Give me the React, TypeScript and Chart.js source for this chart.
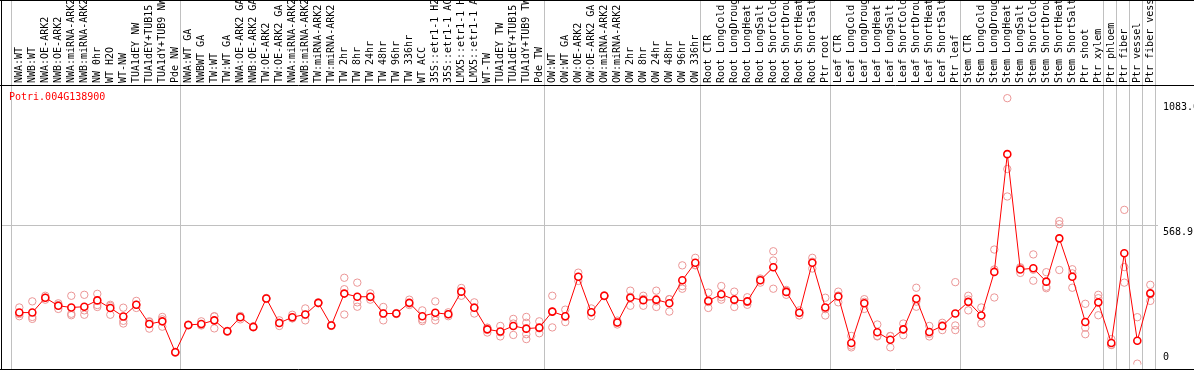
import React, { useEffect, useRef } from 'react';
import { Chart, registerables } from 'chart.js';

Chart.register(...registerables);

const geneId = 'Potri.004G138900';

const categories: string[] = [
  'NWA:WT', 'NWB:WT', 'NWA:OE-ARK2', 'NWB:OE-ARK2', 'NWA:miRNA-ARK2', 'NWB:miRNA-ARK2',
  'NW 0hr', 'WT H2O', 'WT-NW', 'TUA1dEY NW', 'TUA1dEY+TUB15 NW', 'TUA1dY+TUB9 NW', 'Pde NW',
  'NWA:WT GA', 'NWBWT GA', 'TW:WT', 'TW:WT GA', 'NWA:OE-ARK2 GA', 'NWB:OE-ARK2 GA', 'TW:OE-ARK2',
  'TW:OE-ARK2 GA', 'NWA:miRNA-ARK2', 'NWB:miRNA-ARK2', 'TW:miRNA-ARK2', 'TW:miRNA-ARK2',
  'TW 2hr', 'TW 8hr', 'TW 24hr', 'TW 48hr', 'TW 96hr', 'TW 336hr', 'WT ACC',
  '35S::etr1-1 H2O', '35S::etr1-1 ACC', 'LMX5::etr1-1 H2O', 'LMX5::etr1-1 ACC', 'WT-TW',
  'TUA1dEY TW', 'TUA1dEY+TUB15 TW', 'TUA1dY+TUB9 TW', 'Pde TW',
  'OW:WT', 'OW:WT GA', 'OW:OE-ARK2', 'OW:OE-ARK2 GA', 'OW:miRNA-ARK2', 'OW:miRNA-ARK2',
  'OW 2hr', 'OW 8hr', 'OW 24hr', 'OW 48hr', 'OW 96hr', 'OW 336hr',
  'Root CTR', 'Root LongCold', 'Root LongDrought', 'Root LongHeat', 'Root LongSalt',
  'Root ShortCold', 'Root ShortDrought', 'Root ShortHeat', 'Root ShortSalt', 'Ptr root',
  'Leaf CTR', 'Leaf LongCold', 'Leaf LongDrought', 'Leaf LongHeat', 'Leaf LongSalt',
  'Leaf ShortCold', 'Leaf ShortDrought', 'Leaf ShortHeat', 'Leaf ShortSalt', 'Ptr leaf',
  'Stem CTR', 'Stem LongCold', 'Stem LongDrought', 'Stem LongHeat', 'Stem LongSalt',
  'Stem ShortCold', 'Stem ShortDrought', 'Stem ShortHeat', 'Stem ShortSalt',
  'Ptr shoot', 'Ptr xylem', 'Ptr phloem', 'Ptr fiber', 'Ptr vessel', 'Ptr fiber vessel',
];

const meanValues: number[] = [
  213, 213, 274, 241, 234, 237, 263, 232, 197, 245, 166, 177, 50,
  162, 166, 181, 136, 194, 154, 271, 170, 194, 205, 253, 160, 291, 278, 278, 209, 209, 253,
  198, 212, 206, 299, 233, 144, 135, 158, 147, 151,
  217, 198, 360, 214, 282, 172, 274, 264, 266, 251, 346, 418,
  261, 288, 266, 259, 346, 399, 298, 212, 418, 234,
  279, 88, 251, 132, 101, 144, 270, 133, 158, 209,
  257, 201, 380, 864, 390, 395, 340, 518, 360, 174, 255,
  88, 457, 97, 292,
];

const replicateValues: number[][] = [
  [234, 198, 207], [259, 187, 195], [282, 266, 274], [251, 228, 244], [282, 208, 202],
  [286, 204, 222], [290, 244, 236], [245, 204, 240], [233, 179, 168], [261, 232, 245],
  [174, 147, 177], [195, 185, 155], [50, 48, 52],
  [162, 160, 164], [177, 160, 162], [198, 148, 197], [136, 134, 138], [198, 185, 199],
  [154, 152, 156], [271, 269, 273], [181, 158, 171], [204, 189, 190], [230, 181, 204],
  [253, 251, 255], [160, 158, 162], [356, 309, 205], [336, 255, 237], [292, 266, 276],
  [236, 181, 210], [209, 207, 211], [266, 244, 250], [222, 185, 178], [259, 181, 196],
  [206, 198, 214], [314, 282, 301], [255, 209, 235], [131, 150, 151], [158, 115, 132],
  [187, 168, 121], [195, 171, 124, 104], [177, 128, 148],
  [282, 152, 217], [225, 174, 195], [377, 360, 343], [198, 214, 230], [282, 280, 284],
  [164, 172, 180], [303, 241, 278], [282, 241, 269], [303, 236, 259], [268, 217, 268],
  [407, 311, 322], [438, 407, 409],
  [295, 232, 256], [322, 276, 266], [299, 236, 263], [276, 245, 256], [353, 336, 349],
  [465, 427, 311], [306, 286, 302], [222, 201, 213], [438, 394, 422], [274, 201, 227],
  [299, 255, 283], [117, 70, 77], [268, 228, 257], [164, 115, 117], [117, 70, 116],
  [168, 120, 144], [315, 237, 258], [158, 115, 126], [171, 141, 161], [338, 160, 141],
  [282, 222, 267], [234, 168, 201], [472, 390, 275], [1094, 803, 690], [399, 376, 395],
  [452, 344, 389], [379, 319, 313], [589, 576, 388], [391, 315, 374], [249, 151, 124],
  [286, 272, 202],
  [104, 80, 80], [635, 400, 336], [194, 3], [327, 261, 288],
];

const groupBoundaries: number[] = [0, 13, 41, 53, 63, 73, 84, 85, 86, 87, 88];
const yTickValues: number[] = [0, 568.9, 1083.6];
const yTickLabels: string[] = ['0', '568.9', '1083.6'];
const yMax = 1144;

const MONO = "'DejaVu Sans Mono', 'Liberation Mono', monospace";

export default function App() {
  const ref = useRef<HTMLCanvasElement | null>(null);

  useEffect(() => {
    const canvas = ref.current;
    if (!canvas) return;

    const maxReps = Math.max(...replicateValues.map((a) => a.length));
    const replicateDatasets = Array.from({ length: maxReps }, (_, k) => ({
      label: `replicate ${k + 1}`,
      data: replicateValues.map((a) => (a[k] === undefined ? null : a[k])),
      showLine: false,
      pointRadius: 3.7,
      pointBorderWidth: 1,
      pointBorderColor: '#eb9696',
      pointBackgroundColor: 'rgba(0,0,0,0)',
      borderColor: '#eb9696',
      order: 1,
    }));

    const framePlugin = {
      id: 'framePlugin',
      beforeDatasetsDraw(chart: any) {
        const { ctx, scales } = chart;
        const x = scales.x;
        const y = scales.y;
        ctx.save();
        ctx.lineWidth = 1;
        ctx.strokeStyle = '#c0c0c0';
        ctx.beginPath();
        for (const b of groupBoundaries) {
          const px = Math.floor(x.getPixelForValue(b - 0.5) - 1.5) + 0.5;
          ctx.moveTo(px, 0);
          ctx.lineTo(px, 369);
        }
        const gy = Math.floor(y.getPixelForValue(yTickValues[1])) + 0.5;
        ctx.moveTo(2, gy);
        ctx.lineTo(1158, gy);
        ctx.stroke();
        ctx.restore();
      },
      afterDraw(chart: any) {
        const { ctx, scales } = chart;
        const y = scales.y;
        const W = chart.width;
        ctx.save();
        ctx.strokeStyle = '#000';
        ctx.lineWidth = 1;
        ctx.beginPath();
        ctx.moveTo(0, 0.5); ctx.lineTo(W, 0.5);
        ctx.moveTo(0, 85.5); ctx.lineTo(W, 85.5);
        ctx.moveTo(0, 369.5); ctx.lineTo(W, 369.5);
        ctx.moveTo(1.5, 0); ctx.lineTo(1.5, 370);
        ctx.stroke();

        ctx.font = `10px ${MONO}`;
        ctx.textAlign = 'left';
        ctx.textBaseline = 'alphabetic';
        ctx.fillStyle = '#ff0000';
        ctx.fillText(geneId, 9, 100);

        ctx.fillStyle = '#000';
        yTickValues.forEach((v, i) => {
          const py = y.getPixelForValue(v);
          const base = v === 0 ? py - 4 : py + 9.5;
          ctx.fillText(yTickLabels[i], 1163, base);
        });
        ctx.restore();
      },
    };

    const chart = new Chart(canvas, {
      type: 'line',
      data: {
        labels: categories,
        datasets: [
          {
            label: 'mean',
            data: meanValues,
            borderColor: '#ff0000',
            borderWidth: 1,
            pointRadius: 3.5,
            pointBorderWidth: 1.6,
            pointBackgroundColor: '#ffffff',
            pointBorderColor: '#ff0000',
            tension: 0,
            order: 0,
          } as any,
          ...(replicateDatasets as any[]),
        ],
      },
      plugins: [framePlugin],
      options: {
        animation: false,
        responsive: false,
        maintainAspectRatio: false,
        events: [],
        layout: { padding: { left: 12.8, right: 1194 - 1156.8, top: 0, bottom: 1 } },
        plugins: { legend: { display: false }, tooltip: { enabled: false }, title: { display: false } },
        scales: {
          x: {
            type: 'category',
            position: 'top',
            offset: true,
            grid: { display: false, drawTicks: false },
            border: { display: false },
            ticks: {
              autoSkip: false,
              minRotation: 90,
              maxRotation: 90,
              padding: 3,
              labelOffset: 12,
              color: '#000',
              font: { family: MONO, size: 10 },
            },
            afterFit(scale: any) {
              scale.height = 86;
            },
          },
          y: {
            display: false,
            min: 0,
            max: yMax,
          },
        },
      } as any,
    });

    return () => chart.destroy();
  }, []);

  return (
    <div style={{ position: 'fixed', left: 0, top: 0, width: 1194, height: 370, background: '#fff' }}>
      <canvas ref={ref} width={1194} height={370} style={{ display: 'block', width: 1194, height: 370 }} />
    </div>
  );
}
